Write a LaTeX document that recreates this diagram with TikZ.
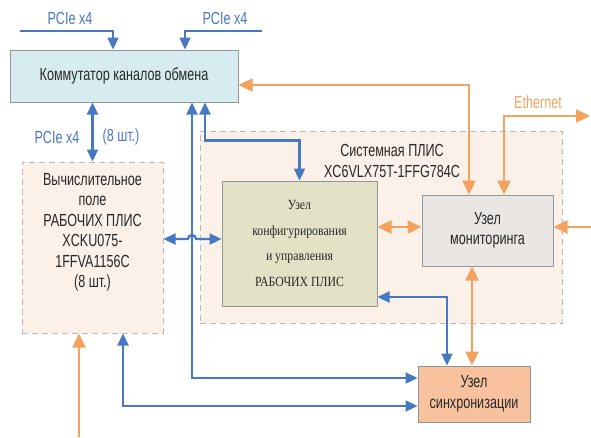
\documentclass[tikz,border=0pt]{standalone}
\usepackage{fontspec}
\setmainfont{Liberation Sans}[FakeStretch=0.72]
\newfontfamily\serfont{Liberation Serif}[FakeStretch=0.84]
\usetikzlibrary{arrows.meta, positioning, calc}
\definecolor{lineblue}{RGB}{70,120,196}
\definecolor{lineorange}{RGB}{244,162,94}
\definecolor{txtgray}{RGB}{40,40,40}
\definecolor{commfill}{RGB}{214,236,241}
\definecolor{peachfill}{RGB}{251,241,233}
\definecolor{cfgfill}{RGB}{227,226,199}
\definecolor{monfill}{RGB}{233,230,228}
\definecolor{syncfill}{RGB}{248,194,158}
\definecolor{rimgray}{RGB}{150,150,150}
\newcommand{\mainsz}{\fontsize{17.5}{20.5}\selectfont}
\newcommand{\cfgsz}{\serfont\fontsize{14}{25.5}\selectfont}
\tikzset{
  blk/.style={rectangle, draw=rimgray, line width=1pt, text=txtgray,
    align=center, font=\mainsz, inner sep=0pt},
  blkC/.style={blk, fill=commfill},
  blkD/.style={blk, fill=peachfill, draw=gray!55, dash pattern=on 6pt off 4pt},
  blkK/.style={blk, fill=cfgfill, font=\cfgsz},
  blkM/.style={blk, fill=monfill},
  blkS/.style={blk, fill=syncfill, draw=gray!85},
  txt/.style={text=txtgray, align=center, font=\mainsz, inner sep=0pt},
  lblB/.style={text=lineblue, font=\mainsz, inner sep=1pt},
  lblO/.style={text=lineorange, font=\mainsz, inner sep=1pt},
  arrB/.style={->, >={Triangle[length=12pt,width=11pt]}, line width=2.3pt, draw=lineblue},
  arrBB/.style={arrB, <->},
  arrO/.style={->, >={Triangle[length=14pt,width=13pt]}, line width=2.4pt, draw=lineorange},
  arrOO/.style={arrO, <->},
}

\begin{document}
\begin{tikzpicture}[x=1pt, y=1pt]
  \useasboundingbox (0,0) rectangle (591,-437);

  % ---- Boxes ----
  \node[blkD, minimum width=362pt, minimum height=192pt] (sys) at (381,-227) {};
  \node[txt] (syslbl) at (392,-161) {Системная ПЛИС\\XC6VLX75T-1FFG784C};

  \node[blkC, minimum width=228pt, minimum height=52pt] (comm) at (124,-76)
       {Коммутатор каналов обмена};

  \node[blkD, minimum width=141pt, minimum height=171pt] (cf) at (92.5,-247.5) {};
  \node[txt] (cftxt) at ([yshift=15pt]cf.center)
       {Вычислительное\\поле\\РАБОЧИХ ПЛИС\\XCKU075-\\1FFVA1156C\\(8 шт.)};

  \node[blkK, minimum width=155pt, minimum height=125pt] (config) at (299.5,-243.5)
       {Узел\\конфигурирования\\и управления\\РАБОЧИХ ПЛИС};

  \node[blkM, minimum width=131pt, minimum height=71pt] (mon) at (487.5,-230.5)
       {Узел\\мониторинга};

  \node[blkS, minimum width=112pt, minimum height=56pt] (sync) at (474,-394)
       {Узел\\синхронизации};

  % ---- Free ends ----
  \coordinate (pin1)  at (20,-31);
  \coordinate (pin2)  at (262,-31);
  \coordinate (eth)   at (590,-116);
  \coordinate (monin) at (591,-227);
  \coordinate (cfin)  at (79,-437);
  \coordinate (hop)   at (192,-239);

  % ---- Blue links ----
  \draw[arrB] (pin1) -| ([xshift=-11pt]comm.north);
  \draw[arrB] (pin2) -| ([xshift=61pt]comm.north);
  \node[lblB] (pcie1) at (70,-18) {PCIe x4};
  \node[lblB] (pcie2) at (225,-18) {PCIe x4};

  \draw[arrBB] (cf.north |- comm.south) -- (cf.north);
  \node[lblB] (pcie3) at (57,-137) {PCIe x4};
  \node[lblB] (cnt)   at (121,-137) {(8 шт.)};

  \draw[arrBB] ([xshift=81pt]comm.south) -- ++(0,-38) -| (config.north);
  \draw[arrBB] ([xshift=68pt]comm.south) |- ([yshift=16pt]sync.west);
  \draw[arrBB] ([xshift=30.5pt]cf.south) |- ([yshift=-12pt]sync.west);
  \draw[arrBB] ([xshift=-27pt]sync.north) |- ([yshift=-53.5pt]config.east);
  \draw[arrBB] ([yshift=8.5pt]cf.east) -- ([xshift=-4pt]hop)
       arc[start angle=180, end angle=0, radius=4pt] -- (config.west |- hop);

  % ---- Orange links ----
  \draw[arrOO] ([yshift=-9pt]comm.east) -| ([xshift=-18.5pt]mon.north);
  \draw[arrOO] ([xshift=16.5pt]mon.north) |- (eth);
  \node[lblO] (ethlbl) at (538,-102) {Ethernet};
  \draw[arrOO] ([yshift=3.5pt]mon.west) -- ([yshift=3.5pt]mon.west -| config.east);
  \draw[arrO] (monin) -- ([yshift=3.5pt]mon.east);
  \draw[arrOO] ([xshift=-15.5pt]mon.south) -- ([xshift=-15.5pt]mon.south |- sync.north);
  \draw[arrO] (cfin) -- (cfin |- cf.south);
\end{tikzpicture}
\end{document}
